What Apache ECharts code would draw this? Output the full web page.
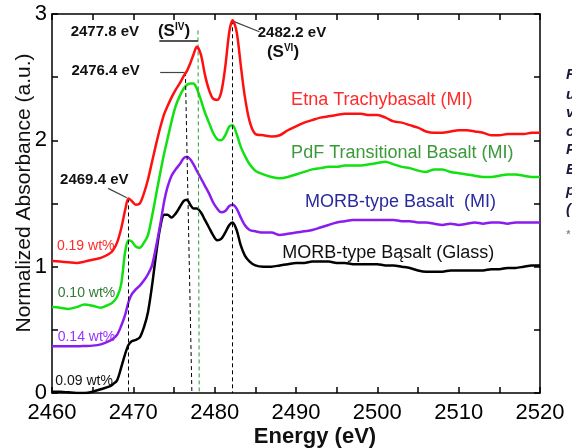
<!DOCTYPE html>
<html>
<head>
<meta charset="utf-8">
<script src="https://cdn.jsdelivr.net/npm/echarts@6/dist/echarts.min.js"></script>
<style>
  html, body { margin: 0; padding: 0; background: #fff; }
  #chart { width: 579px; height: 448px; }
</style>
</head>
<body>
<div id="chart"></div>
<script>
// Energies (eV) sampled along the spectra
var energy = [
    2460, 2461, 2462, 2463, 2464, 2465, 2466, 2467, 2467.5, 2468,
    2468.5, 2469, 2469.4, 2469.8, 2470.3, 2470.8, 2471.3, 2471.8, 2472.3, 2472.8,
    2473.3, 2473.8, 2474.2, 2474.7, 2475.2, 2475.7, 2476.2, 2476.6, 2477.0, 2477.4,
    2477.8, 2478.3, 2478.8, 2479.3, 2479.8, 2480.3, 2480.8, 2481.3, 2481.8, 2482.2,
    2482.7, 2483.2, 2483.7, 2484.3, 2485, 2486, 2487, 2488, 2489, 2490,
    2491, 2492, 2493, 2494, 2495, 2496, 2497, 2498, 2499, 2500,
    2501, 2502, 2503, 2504, 2505, 2506, 2507, 2508, 2509, 2510,
    2511, 2512, 2513, 2514, 2515, 2516, 2517, 2518, 2519, 2520
];

// Etna Trachybasalt (MI)
var etna = [
    1.045, 1.04, 1.035, 1.03, 1.04, 1.055, 1.07, 1.10, 1.13, 1.19,
    1.30, 1.45, 1.54, 1.52, 1.49, 1.50, 1.58, 1.69, 1.83, 1.97,
    2.10, 2.21, 2.27, 2.34, 2.40, 2.45, 2.51, 2.55, 2.61, 2.68,
    2.74, 2.68, 2.52, 2.40, 2.33, 2.32, 2.38, 2.58, 2.86, 2.95,
    2.86, 2.60, 2.35, 2.15, 2.05, 2.04, 2.03, 2.04, 2.08, 2.11,
    2.14, 2.16, 2.18, 2.19, 2.20, 2.21, 2.21, 2.21, 2.20, 2.20,
    2.18, 2.15, 2.14, 2.12, 2.10, 2.07, 2.06, 2.06, 2.07, 2.08,
    2.08, 2.07, 2.06, 2.04, 2.04, 2.05, 2.05, 2.05, 2.06, 2.06
];

// PdF Transitional Basalt (MI)
var pdf = [
    0.68, 0.675, 0.665, 0.68, 0.70, 0.69, 0.675, 0.70, 0.72, 0.76,
    0.86, 1.12, 1.21, 1.20, 1.16, 1.15, 1.19, 1.25, 1.40, 1.57,
    1.74, 1.90, 2.01, 2.15, 2.27, 2.35, 2.41, 2.44, 2.45, 2.45,
    2.41, 2.32, 2.22, 2.14, 2.06, 2.01, 2.00, 2.04, 2.11, 2.12,
    2.05, 1.95, 1.88, 1.81, 1.76, 1.73, 1.71, 1.70, 1.71, 1.73,
    1.75, 1.77, 1.78, 1.79, 1.79, 1.80, 1.80, 1.80, 1.81, 1.82,
    1.83, 1.81, 1.79, 1.78, 1.76, 1.75, 1.77, 1.77, 1.75, 1.74,
    1.73, 1.72, 1.71, 1.71, 1.72, 1.73, 1.73, 1.72, 1.71, 1.71
];

// MORB-type Basalt (MI)
var morbMI = [
    0.37, 0.37, 0.37, 0.37, 0.372, 0.375, 0.385, 0.41, 0.43, 0.46,
    0.53, 0.62, 0.72, 0.78, 0.82, 0.85, 0.89, 0.94, 1.01, 1.16,
    1.33, 1.52, 1.63, 1.72, 1.77, 1.81, 1.86, 1.87, 1.85, 1.81,
    1.76, 1.70, 1.64, 1.58, 1.51, 1.46, 1.43, 1.44, 1.48, 1.49,
    1.46, 1.39, 1.33, 1.29, 1.28, 1.27, 1.27, 1.25, 1.26, 1.27,
    1.28, 1.29, 1.31, 1.33, 1.35, 1.36, 1.37, 1.37, 1.37, 1.37,
    1.37, 1.37, 1.36, 1.36, 1.35, 1.35, 1.34, 1.33, 1.34, 1.33,
    1.34, 1.35, 1.34, 1.35, 1.35, 1.34, 1.35, 1.35, 1.35, 1.35
];

// MORB-type Basalt (Glass)
var morbGlass = [
    0.01, 0.01, 0.005, 0.0, 0.0, 0.01, 0.03, 0.05, 0.07, 0.10,
    0.20, 0.31, 0.38, 0.41, 0.42, 0.44, 0.52, 0.64, 0.85, 1.10,
    1.31, 1.41, 1.41, 1.39, 1.42, 1.47, 1.52, 1.53, 1.49, 1.46,
    1.46, 1.43, 1.37, 1.31, 1.25, 1.21, 1.22, 1.27, 1.33, 1.35,
    1.29, 1.17, 1.09, 1.04, 1.01, 1.00, 1.00, 1.01, 1.02, 1.03,
    1.03, 1.04, 1.04, 1.04, 1.03, 1.03, 1.02, 1.02, 1.02, 1.02,
    1.01, 1.01, 1.00, 0.99, 0.97, 0.96, 0.96, 0.96, 0.97, 0.97,
    0.97, 0.97, 0.97, 0.98, 0.98, 0.99, 0.99, 1.00, 1.01, 1.01
];

var seriesNames = ['Etna Trachybasalt (MI)', 'PdF Transitional Basalt (MI)', 'MORB-type Basalt  (MI)', 'MORB-type Bąsalt (Glass)'];
var seriesColors = ['#ff1010', '#11e011', '#8a1cf0', '#000000'];
var labelColors = ['#ff2a2a', '#3a9a3a', '#2a2a9e', '#111111'];
var labelCoords = [[2489.4, 2.32], [2489.4, 1.90], [2491.1, 1.51], [2488.3, 1.11]];

var sulfurText = ['0.19 wt%', '0.10 wt%', '0.14 wt%', '0.09 wt%'];
var sulfurColors = ['#ff2a2a', '#2f7a2f', '#9a30ff', '#111111'];
var sulfurCoords = [[2460.6, 1.16], [2460.7, 0.79], [2460.7, 0.44], [2460.4, 0.09]];

// peak markers: dashed verticals [x top, y top, x bottom]
var peakLines = [[2469.4, 1.54, 2469.4], [2476.4, 2.54, 2477.2], [2482.2, 2.95, 2482.2]];
var sivLine = [2477.95, 2.87, 2478.1];

function pair(a, b) {
    return a.map(function (v, i) { return [v, b[i]]; });
}

var chartDom = document.getElementById('chart');
var myChart = echarts.init(chartDom);

var font = 'Liberation Sans, Arial, sans-serif';

var axisBase = {
    type: 'value',
    axisLine: { show: true, onZero: false, lineStyle: { color: '#000', width: 1.5 } },
    axisTick: { show: true, inside: true, length: 6, lineStyle: { color: '#000', width: 1.5 } },
    minorTick: { show: true, splitNumber: 2, length: 6, lineStyle: { color: '#000', width: 1.5 } },
    splitLine: { show: false }
};

var xBottom = Object.assign({}, axisBase, {
    min: 2460, max: 2520, interval: 10, position: 'bottom',
    axisLabel: { color: '#000', fontSize: 22, fontFamily: font, margin: 9, formatter: function (v) { return String(v); } }
});
var xTop = Object.assign({}, axisBase, {
    min: 2460, max: 2520, interval: 10, position: 'top',
    axisLabel: { show: false }
});
var yLeft = Object.assign({}, axisBase, {
    min: 0, max: 3, interval: 1, position: 'left',
    axisLabel: { color: '#000', fontSize: 22, fontFamily: font, margin: 5 }
});
var yRight = Object.assign({}, axisBase, {
    min: 0, max: 3, interval: 1, position: 'right',
    axisLabel: { show: false }
});

var lines = [etna, pdf, morbMI, morbGlass];
var series = lines.map(function (vals, i) {
    return {
        name: seriesNames[i],
        type: 'line',
        data: pair(energy, vals),
        showSymbol: false,
        smooth: 0.3,
        lineStyle: { color: seriesColors[i], width: 2.5 },
        z: 5 - i
    };
});

// dashed guides and leader lines
var guideData = peakLines.map(function (p) {
    return [{ coord: [p[0], p[1]] }, { coord: [p[2], 0] }];
});
guideData.push([{ coord: [sivLine[0], sivLine[1]], lineStyle: { color: '#2a9a2a' } }, { coord: [sivLine[2], 0] }]);
series.push({
    type: 'line', data: [], silent: true,
    markLine: {
        symbol: 'none', silent: true, animation: false,
        label: { show: false },
        lineStyle: { color: '#000', width: 1, type: [4, 3] },
        data: guideData
    }
});
series.push({
    type: 'line', data: [], silent: true,
    markLine: {
        symbol: 'none', silent: true, animation: false,
        label: { show: false },
        lineStyle: { color: '#444', width: 1.2, type: 'solid' },
        data: [
            [{ coord: [2473.2, 2.79], lineStyle: { width: 2, color: '#555' } }, { coord: [2477.95, 2.79] }],
            [{ coord: [2473.3, 2.54] }, { coord: [2476.3, 2.54] }],
            [{ coord: [2466.9, 1.62] }, { coord: [2469.2, 1.545] }],
            [{ coord: [2482.4, 2.94] }, { coord: [2485.5, 2.86] }]
        ]
    }
});

var option = {
    animation: false,
    grid: { left: 52, right: 39, top: 14, bottom: 55, containLabel: false },
    xAxis: [xBottom, xTop],
    yAxis: [yLeft, yRight],
    series: series
};
myChart.setOption(option);

// text annotations placed in data coordinates
var bold = { fontFamily: font, fontWeight: 'bold', fontSize: 15, fill: '#111' };
var notes = [
    { text: '2477.8 eV', coord: [2466.5, 2.86], style: bold },
    { text: '{a|(S}{b|IV}{a|)}', coord: [2475.0, 2.86], rich: true },
    { text: '2476.4 eV', coord: [2466.6, 2.55], style: bold },
    { text: '2469.4 eV', coord: [2465.2, 1.69], style: bold },
    { text: '2482.2 eV', coord: [2489.5, 2.85], style: bold },
    { text: '{a|(S}{b|VI}{a|)}', coord: [2488.4, 2.70], rich: true }
];

var graphics = [];
notes.forEach(function (n) {
    var p = myChart.convertToPixel({ gridIndex: 0 }, n.coord);
    var style = n.rich ? {
        text: n.text,
        rich: {
            a: { fontFamily: font, fontWeight: 'bold', fontSize: 17, fill: '#111' },
            b: { fontFamily: font, fontWeight: 'bold', fontSize: 10, fill: '#111', verticalAlign: 'top', padding: [0, 0, 8, 0] }
        },
        align: 'center', verticalAlign: 'middle'
    } : Object.assign({ text: n.text, align: 'center', verticalAlign: 'middle' }, n.style);
    graphics.push({ type: 'text', x: p[0], y: p[1], style: style, z: 20 });
});

labelCoords.forEach(function (c, i) {
    var p = myChart.convertToPixel({ gridIndex: 0 }, c);
    graphics.push({
        type: 'text', x: p[0], y: p[1], z: 20,
        style: { text: seriesNames[i], fontFamily: font, fontSize: 18, fill: labelColors[i], align: 'left', verticalAlign: 'middle' }
    });
});

sulfurCoords.forEach(function (c, i) {
    var p = myChart.convertToPixel({ gridIndex: 0 }, c);
    graphics.push({
        type: 'text', x: p[0], y: p[1], z: 20,
        style: { text: sulfurText[i], fontFamily: font, fontSize: 14, fill: sulfurColors[i], align: 'left', verticalAlign: 'middle' }
    });
});

// axis titles
graphics.push({
    type: 'text', x: 24, y: 193, rotation: Math.PI / 2, z: 20,
    style: { text: 'Normalized Absorbance (a.u.)', fontFamily: font, fontSize: 21, fill: '#111', align: 'center', verticalAlign: 'middle' }
});
graphics.push({
    type: 'text', x: 315, y: 437, z: 20,
    style: { text: 'Energy (eV)', fontFamily: font, fontWeight: 'bold', fontSize: 22, fill: '#111', align: 'center', verticalAlign: 'middle' }
});

// caption letters cut off at the right edge of the figure
var captionLetters = ['F', 'u', 'v', 'c', 'P', 'E', 'p', '(', '*'];
var captionY = [75, 95, 113, 132, 150, 170, 191, 210, 235];
captionLetters.forEach(function (ch, i) {
    graphics.push({
        type: 'text', x: 566, y: captionY[i], z: 20,
        style: {
            text: ch, fontFamily: font, fontStyle: 'italic', fontWeight: 'bold',
            fontSize: i === 8 ? 10 : 15, fill: i === 8 ? '#888' : '#1a1a3a', align: 'left', verticalAlign: 'middle'
        }
    });
});
graphics.push({
    type: 'rect', z: 30,
    shape: { x: 572, y: 60, width: 7, height: 190 },
    style: { fill: '#fff' }
});

myChart.setOption({ graphic: graphics });
</script>
</body>
</html>
